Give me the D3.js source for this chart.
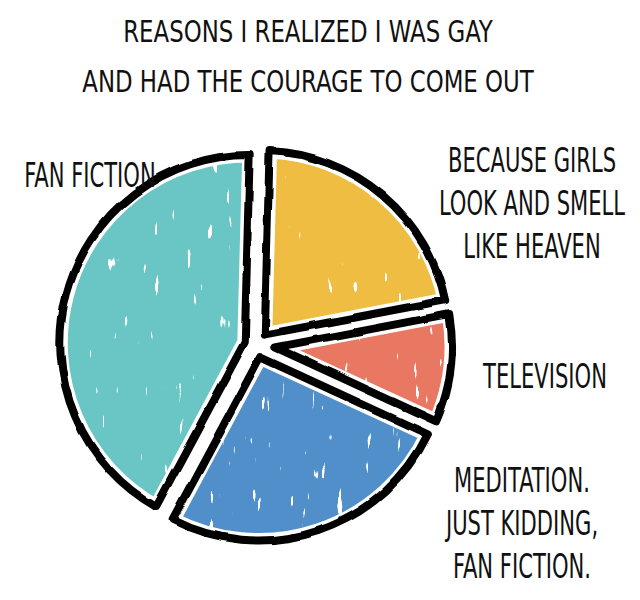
<!DOCTYPE html>
<html><head><meta charset="utf-8">
<script src="https://cdn.jsdelivr.net/npm/d3@7"></script>
<style>body{margin:0;background:#fff}svg{display:block}</style>
</head><body>
<svg id="chart" width="640" height="600"></svg>
<script>
// ---- data ----
const categories = ["Because girls look and smell like heaven", "Television", "Meditation. Just kidding, fan fiction.", "Fan fiction"];
const values = [21.5, 9.5, 26, 43];
const colors = ["#efbd42", "#e97862", "#518fcb", "#69c6c5"];
const labelLines = [
  ["BECAUSE GIRLS", "LOOK AND SMELL", "LIKE HEAVEN"],
  ["TELEVISION"],
  ["MEDITATION.", "JUST KIDDING,", "FAN FICTION."],
  ["FAN FICTION"]
];
const titleLines = ["REASONS I REALIZED I WAS GAY", "AND HAD THE COURAGE TO COME OUT"];

// ---- layout ----
const cx = 256, cy = 345, R = 188, explode = 8, gap = 7, outline = 8;
const labelPos = [{x: 532, y: 172}, {x: 545, y: 388}, {x: 522, y: 492}, {x: 90, y: 187}];
const lineGap = 43;
const FONT = "'DejaVu Sans Condensed','DejaVu Sans',sans-serif";

const svg = d3.select("#chart");
const defs = svg.append("defs");
const f1 = defs.append("filter").attr("id", "rough").attr("x", "-10%").attr("y", "-10%").attr("width", "120%").attr("height", "120%");
f1.append("feTurbulence").attr("type", "fractalNoise").attr("baseFrequency", 0.03).attr("numOctaves", 2).attr("seed", 4).attr("result", "n");
f1.append("feDisplacementMap").attr("in", "SourceGraphic").attr("in2", "n").attr("scale", 4).attr("xChannelSelector", "R").attr("yChannelSelector", "G");
const f2 = defs.append("filter").attr("id", "bumpy").attr("x", "-10%").attr("y", "-10%").attr("width", "120%").attr("height", "120%");
f2.append("feTurbulence").attr("type", "fractalNoise").attr("baseFrequency", 0.09).attr("numOctaves", 2).attr("seed", 7).attr("result", "n");
f2.append("feDisplacementMap").attr("in", "SourceGraphic").attr("in2", "n").attr("scale", 7).attr("xChannelSelector", "R").attr("yChannelSelector", "G").attr("result", "d");
f2.append("feTurbulence").attr("type", "fractalNoise").attr("baseFrequency", "0.14 0.03").attr("numOctaves", 2).attr("seed", 11).attr("result", "s");
f2.append("feColorMatrix").attr("in", "s").attr("type", "matrix")
  .attr("values", "0 0 0 0 0  0 0 0 0 0  0 0 0 0 0  -30 0 0 0 23.2").attr("result", "mask");
f2.append("feComposite").attr("in", "d").attr("in2", "mask").attr("operator", "in");

const start = 0.026;
const pie = d3.pie().sort(null).value(d => d).startAngle(start).endAngle(start + 2 * Math.PI).padAngle(gap / R);
const arcs = pie(values);
// inner radius chosen so padded edges stay parallel and meet in a point
const arc = d3.arc()
  .innerRadius(d => (R * Math.sin(d.padAngle / 2)) / Math.sin((d.endAngle - d.startAngle) / 2))
  .outerRadius(R).padRadius(R);

const g = svg.append("g").attr("transform", `translate(${cx},${cy})`);
const slices = g.selectAll("g.slice").data(arcs).join("g").attr("class", "slice")
  .attr("transform", d => {
    const a = (d.startAngle + d.endAngle) / 2;
    return `translate(${explode * Math.sin(a)},${-explode * Math.cos(a)})`;
  });

slices.each(function(d, i) {
  const s = d3.select(this);
  defs.append("clipPath").attr("id", "clip" + i).append("path").attr("d", arc(d));
  const inner = s.append("g").attr("clip-path", `url(#clip${i})`);
  inner.append("path").attr("d", arc(d)).attr("fill", colors[i]).attr("filter", "url(#bumpy)");
  inner.append("path").attr("d", arc(d)).attr("fill", "none").attr("stroke", "#fff").attr("stroke-width", outline + 7).attr("stroke-linejoin", "round");
  s.append("path").attr("d", arc(d)).attr("fill", "none").attr("stroke", "#000")
    .attr("stroke-width", outline).attr("stroke-linejoin", "round").attr("filter", "url(#rough)");
});

// horizontally condensed text (hand-lettering look) via a scale transform
function addText(parent, str, x, y, size, k) {
  parent.append("g").attr("transform", `translate(${x},${y}) scale(${k},1)`)
    .append("text").attr("x", 0).attr("y", 0)
    .attr("text-anchor", "middle").attr("font-family", FONT).attr("font-size", size).attr("fill", "#111")
    .text(str);
}

const title = svg.append("g");
titleLines.forEach((t, i) => addText(title, t, 308, 42 + i * 50, 31, 0.82));

const labels = svg.append("g");
labelLines.forEach((lines, i) => {
  lines.forEach((t, j) => addText(labels, t, labelPos[i].x, labelPos[i].y + j * lineGap, 34, 0.69));
});
</script>
</body></html>
